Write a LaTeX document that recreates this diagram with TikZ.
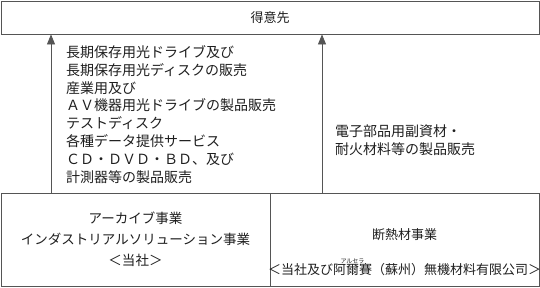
\documentclass[tikz,border=0pt]{standalone}
\usepackage{fontspec}
\setmainfont{Noto Sans CJK JP}
\usetikzlibrary{positioning,arrows.meta}
\definecolor{framegray}{RGB}{85,85,85}
\definecolor{textdark}{RGB}{30,30,30}
\newcommand{\furi}[2]{\leavevmode\setbox0\hbox{#1}\rlap{\raisebox{1.05\ht0}[0pt][0pt]{\makebox[\wd0]{\fontsize{6}{6}\selectfont #2}}}#1}

\begin{document}
\begin{tikzpicture}[x=1pt,y=-1pt,every node/.style={font=\fontsize{13}{17.5}\selectfont,text=textdark},
    panel/.style={draw=framegray,line width=.8pt,inner sep=0pt},
    flow/.style={-{Triangle[length=10pt,width=8pt]},line width=.8pt,draw=framegray},
    flowtext/.style={anchor=north west,align=left,inner sep=0pt,font=\fontsize{14}{17.9}\selectfont}]
    \useasboundingbox (0,0) rectangle (540,287);
    % frames
    \node[panel,minimum width=538pt,minimum height=33pt] (customer) at (270,17.5) {得意先};
    \node[panel,minimum width=269pt,minimum height=93pt,align=center,font=\fontsize{13.5}{21}\selectfont] (archive) at (135.5,239.5)
        {アーカイブ事業\\インダストリアルソリューション事業\\＜当社＞};
    \node[panel,minimum width=269pt,minimum height=93pt] (insul) at (404.5,239.5) {};
    \node (insultitle) at (404.5,235) {断熱材事業};
    \node (insulfirm) at (404.5,270) {＜当社及び\furi{阿爾賽}{アルセラ}（蘇州）無機材料有限公司＞};
    % sales flows
    \coordinate (flowL) at (51,193);
    \coordinate (flowR) at (322,193);
    \draw[flow] (flowL) -- (flowL |- customer.south);
    \draw[flow] (flowR) -- (flowR |- customer.south);
    \node[flowtext] (salesL) at (66,45) {長期保存用光ドライブ及び\\長期保存用光ディスクの販売\\産業用及び\\ＡＶ機器用光ドライブの製品販売\\テストディスク\\各種データ提供サービス\\ＣＤ・ＤＶＤ・ＢＤ、及び\\計測器等の製品販売};
    \node[flowtext] (salesR) at (335,124.5) {電子部品用副資材・\\耐火材料等の製品販売};
\end{tikzpicture}
\end{document}
